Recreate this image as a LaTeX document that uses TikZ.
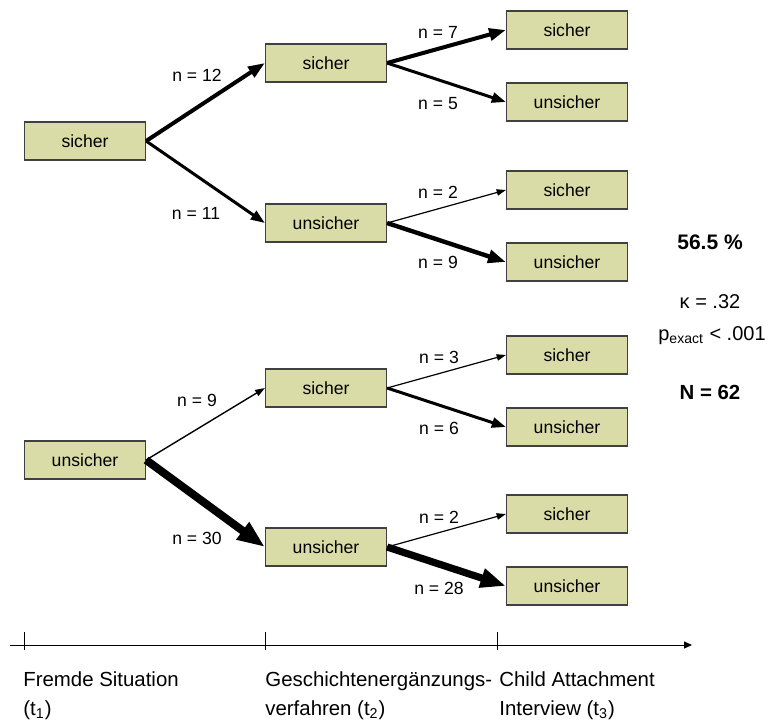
\documentclass[tikz,border=0pt]{standalone}
\usepackage{fontspec}
\setmainfont{Liberation Sans}
\usetikzlibrary{arrows.meta}
\definecolor{boxfill}{RGB}{217,220,167}
\definecolor{boxline}{RGB}{64,64,64}

\begin{document}
\begin{tikzpicture}[x = 0.5pt, y = -0.5pt, node distance = 120.5pt,
	main/.style = {draw = boxline, fill = boxfill, line width = 0.6pt, minimum width = 60.5pt, minimum height = 19pt, inner sep = 0pt, font = \fontsize{8.8}{10}\selectfont},
	lab/.style = {inner sep = 0pt, font = \fontsize{8.8}{10}\selectfont},
	stat/.style = {inner sep = 0pt, font = \fontsize{10}{12}\selectfont},
	axis/.style = {anchor = north west, align = left, inner sep = 0pt, font = \fontsize{10.2}{14.5}\selectfont},
	flow/.style = {line width = #1, -{Triangle[length = 3pt 2.7, width = 2pt 2]}}]
	\useasboundingbox (0, 0) rectangle (769, 722);
	\node[main] (1) at (85, 141) {sicher};
	\node[main] (2) at (85, 460) {unsicher};
	\node[main] (3) at (326, 63) {sicher};
	\node[main] (4) at (326, 223) {unsicher};
	\node[main] (5) at (326, 388) {sicher};
	\node[main] (6) at (326, 547) {unsicher};
	\node[main] (7) [right of = 3, yshift = 16.5pt] {sicher};
	\node[main] (8) [right of = 3, yshift = -19.5pt] {unsicher};
	\node[main] (9) [right of = 4, yshift = 16.5pt] {sicher};
	\node[main] (10) [right of = 4, yshift = -19.5pt] {unsicher};
	\node[main] (11) [right of = 5, yshift = 16.5pt] {sicher};
	\node[main] (12) [right of = 5, yshift = -19.5pt] {unsicher};
	\node[main] (13) [right of = 6, yshift = 16.5pt] {sicher};
	\node[main] (14) [right of = 6, yshift = -19.5pt] {unsicher};
	\draw[flow = 2pt] (1.east) -- (3.west);
	\draw[flow = 1.5pt] (1.east) -- (4.west);
	\draw[flow = 0.7pt] (2.east) -- (5.west);
	\draw[flow = 4pt] (2.east) -- (6.west);
	\draw[flow = 2pt] (3.east) -- (7.west);
	\draw[flow = 1.5pt] (3.east) -- (8.west);
	\draw[flow = 0.6pt] (4.east) -- (9.west);
	\draw[flow = 2.2pt] (4.east) -- (10.west);
	\draw[flow = 0.6pt] (5.east) -- (11.west);
	\draw[flow = 1.5pt] (5.east) -- (12.west);
	\draw[flow = 0.6pt] (6.east) -- (13.west);
	\draw[flow = 3.6pt] (6.east) -- (14.west);
	\node[lab] (n1) at (197, 75) {n = 12};
	\node[lab] (n2) at (196, 213) {n = 11};
	\node[lab] (n3) at (197, 400) {n = 9};
	\node[lab] (n4) at (197, 538) {n = 30};
	\node[lab] (n5) at (438, 32) {n = 7};
	\node[lab] (n6) at (438, 104) {n = 5};
	\node[lab] (n7) at (438, 192) {n = 2};
	\node[lab] (n8) at (438, 262) {n = 9};
	\node[lab] (n9) at (439, 357) {n = 3};
	\node[lab] (n10) at (439, 428) {n = 6};
	\node[lab] (n11) at (439, 517) {n = 2};
	\node[lab] (n12) at (439, 588) {n = 28};
	% Kennwerte
	\node[stat, font = \bfseries\fontsize{10.5}{12}\selectfont] (pct) at (710, 242) {56.5 \%};
	\node[stat] (kappa) at (710, 302) {κ = .32};
	\node[stat] (p) at (712, 336) {p\textsubscript{exact} < .001};
	\node[stat, font = \bfseries\fontsize{10.2}{12}\selectfont] (N) at (710, 392) {N = 62};
	% Zeitachse
	\coordinate (a) at (10, 645);
	\coordinate (b) at (692, 645);
	\draw[line width = 0.5pt, -{Triangle[length = 4pt, width = 3.5pt]}] (a) -- (b);
	\foreach \x in {24, 265, 497}
		\draw[line width = 0.5pt] (\x, 632) -- (\x, 650);
	\node[axis] (t1) at (23, 671) {Fremde Situation\\(t\textsubscript{1})};
	\node[axis] (t2) at (265, 671) {Geschichtenergänzungs-\\verfahren (t\textsubscript{2})};
	\node[axis] (t3) at (499, 671) {Child Attachment\\Interview (t\textsubscript{3})};
\end{tikzpicture}
\end{document}
